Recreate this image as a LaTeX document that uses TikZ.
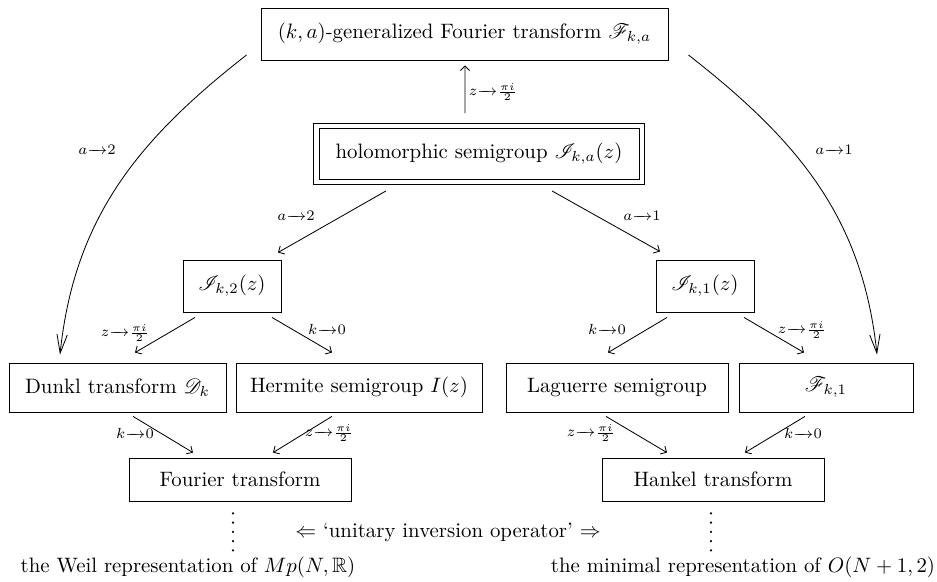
\documentclass[tikz,border=0pt]{standalone}
\usepackage{amsmath,amssymb}
\usepackage{mathrsfs}
\usetikzlibrary{arrows.meta,calc,fit}

\newcommand{\tendsto}{\mathrel{\relbar\mkern-10mu\rightarrow}}

\begin{document}
\begin{tikzpicture}[
  x=0.48pt, y=-0.48pt,
  box/.style={draw,inner sep=0pt,align=center},
  arr/.style={-{Straight Barb[length=2.2pt,width=4.4pt]}},
  bigarr/.style={-{Straight Barb[length=9pt,width=5pt]}},
  lbl/.style={inner sep=0pt},
  dotline/.style={line width=1.1pt,line cap=round,dash pattern=on 0pt off 4.44pt}
]
\useasboundingbox (0,0) rectangle (937,582);

% Top of the diagram
\node[box,minimum width=195.4pt,minimum height=25pt] (fka) at (464.5,34)
  {$(k,a)$-generalized Fourier transform $\mathscr{F}_{k,a}$};
\node[box,minimum width=153.6pt,minimum height=24.5pt] (holo) at (479,154)
  {holomorphic semigroup $\mathscr{I}_{k,a}(z)$};
\node[box,fit=(holo),inner xsep=2.4pt,inner ysep=2.2pt] (holoframe) {};

% Middle row
\node[box,minimum width=47pt,minimum height=25pt] (ik2) at (232,286) {$\mathscr{I}_{k,2}(z)$};
\node[box,minimum width=47pt,minimum height=25pt] (ik1) at (705,286) {$\mathscr{I}_{k,1}(z)$};

% Special cases
\node[box,minimum width=104.2pt,minimum height=23.5pt] (dunkl) at (117.5,387.5) {Dunkl transform $\mathscr{D}_k$};
\node[box,minimum width=118pt,minimum height=23.5pt] (hermite) at (359,387.5) {Hermite semigroup $I(z)$};
\node[box,minimum width=106.6pt,minimum height=23.5pt] (laguerre) at (617,387.5) {Laguerre semigroup};
\node[box,minimum width=83.5pt,minimum height=23.5pt] (fk1) at (826,387.5) {$\mathscr{F}_{k,1}$};

% Classical transforms
\node[box,minimum width=106.6pt,minimum height=20.6pt] (fourier) at (240,479.5) {Fourier transform};
\node[box,minimum width=106.6pt,minimum height=20.6pt] (hankel) at (713,479.5) {Hankel transform};

% Arrows
\draw[arr] ($(holoframe.north)+(-14,-10)$) -- ($(fka.south)+(0.5,5)$);
\draw[arr] ($(holoframe.south)+(-93,6)$) -- ($(ik2.north)+(46,-7)$);
\draw[arr] ($(holoframe.south)+(73,6)$) -- ($(ik1.north)+(-45,-8)$);
\draw[arr] ($(ik2.south)+(-37,5)$) -- ($(dunkl.north)+(17.5,-10)$);
\draw[arr] ($(ik2.south)+(40,5)$) -- ($(hermite.north)+(-27,-10)$);
\draw[arr] ($(ik1.south)+(-38,5)$) -- ($(laguerre.north)+(-9,-10)$);
\draw[arr] ($(ik1.south)+(39,5)$) -- ($(fk1.north)+(-22,-10)$);
\draw[arr] ($(dunkl.south)+(15.5,4)$) -- ($(fourier.north)+(-47,-5)$);
\draw[arr] ($(hermite.south)+(-27,4)$) -- ($(fourier.north)+(33,-5)$);
\draw[arr] ($(laguerre.south)+(-11,4)$) -- ($(hankel.north)+(-46,-5)$);
\draw[arr] ($(fk1.south)+(-21,4)$) -- ($(hankel.north)+(32,-5)$);
\draw[bigarr] ($(fka.west)+(-14,21)$) to[out=218,in=84] ($(dunkl.north)+(-57.5,-8)$);
\draw[bigarr] ($(fka.east)+(20,21)$) to[out=322,in=96] ($(fk1.north)+(51,-8)$);

% Labels
\node[lbl] (lz0) at (493,92) {$\scriptstyle z\tendsto\frac{\pi i}{2}$};
\node[lbl] (la2) at (296,216) {$\scriptstyle a\tendsto 2$};
\node[lbl] (la1) at (642,216) {$\scriptstyle a\tendsto 1$};
\node[lbl] (lca2) at (97,150) {$\scriptstyle a\tendsto 2$};
\node[lbl] (lca1) at (834,150) {$\scriptstyle a\tendsto 1$};
\node[lbl] (lz2) at (125,333) {$\scriptstyle z\tendsto\frac{\pi i}{2}$};
\node[lbl] (lk2) at (327,329) {$\scriptstyle k\tendsto 0$};
\node[lbl] (lk1) at (607,329) {$\scriptstyle k\tendsto 0$};
\node[lbl] (lz1) at (802,330) {$\scriptstyle z\tendsto\frac{\pi i}{2}$};
\node[lbl] (lkd) at (135,433) {$\scriptstyle k\tendsto 0$};
\node[lbl] (lzh) at (329,433) {$\scriptstyle z\tendsto\frac{\pi i}{2}$};
\node[lbl] (lzl) at (591,433) {$\scriptstyle z\tendsto\frac{\pi i}{2}$};
\node[lbl] (lkf) at (803,433) {$\scriptstyle k\tendsto 0$};

% Representations
\draw[dotline] ($(fourier.south)+(-7,12)$) -- ($(fourier.south)+(-7,50)$);
\draw[dotline] ($(hankel.south)+(-2,12)$) -- ($(hankel.south)+(-2,50)$);
\node (uio) at (448,532) {$\Leftarrow$ `unitary inversion operator' $\Rightarrow$};
\node (weil) at (188,567) {the Weil representation of $Mp(N,\mathbb{R})$};
\node (minrep) at (743,567) {the minimal representation of $O(N+1,2)$};
\end{tikzpicture}
\end{document}
